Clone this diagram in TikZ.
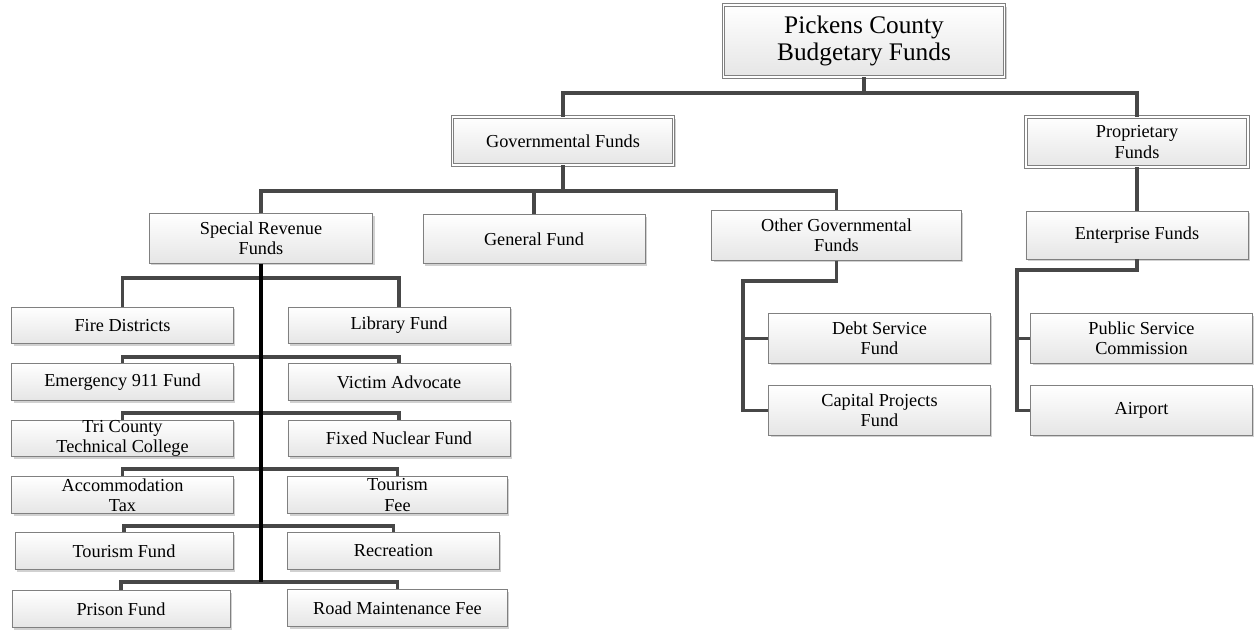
\documentclass[tikz,border=0pt]{standalone}
\usepackage{fontspec}
\setmainfont{Liberation Serif}
\usetikzlibrary{shadows}

\begin{document}
\begin{tikzpicture}[x=0.025cm, y=-0.025cm,
    fund/.style={draw=black!50, line width=0.6pt, top color=white, bottom color=black!10,
      drop shadow={shadow xshift=1.5pt, shadow yshift=-1.5pt, fill=black!30, opacity=0.6},
      align=center, inner sep=0pt, font=\fontsize{13}{14.3}\selectfont,
      minimum width=5.53cm, minimum height=0.92cm},
    head/.style={fund, double=white, double distance=1.2pt},
    link/.style={draw=black!72, line width=2.4pt},
    spine/.style={draw=black, line width=2.4pt}]
  \useasboundingbox (0,0) rectangle (1254,632);

  \node[head, minimum width=7.03cm, minimum height=1.8cm, font=\fontsize{18}{19.5}\selectfont] (pickens) at (864,41) {Pickens County\\Budgetary Funds};
  \node[head, minimum height=1.2cm] (govt) at (563,141) {Governmental Funds};
  \node[head, minimum width=5.55cm, minimum height=1.25cm] (prop) at (1137,142) {Proprietary\\Funds};

  \node[fund, minimum width=5.58cm, minimum height=1.23cm] (special) at (261,238.5) {Special Revenue\\Funds};
  \node[fund, minimum width=5.55cm, minimum height=1.23cm] (general) at (534,239) {General Fund};
  \node[fund, minimum width=6.23cm, minimum height=1.23cm] (othergov) at (836.5,235.5) {Other Governmental\\Funds};
  \node[fund, minimum width=5.55cm, minimum height=1.2cm] (enterprise) at (1137,235) {Enterprise Funds};

  \node[fund, minimum height=1.23cm] (debt) at (879.5,338.5) {Debt Service\\Fund};
  \node[fund, minimum height=1.23cm] (capital) at (879.5,410.5) {Capital Projects\\Fund};
  \node[fund, minimum height=1.23cm] (psc) at (1141.5,338.5) {Public Service\\Commission};
  \node[fund, minimum height=1.23cm] (airport) at (1141.5,410.5) {Airport};

  \node[fund] (fire) at (122.5,325.5) {Fire Districts};
  \node[fund, minimum width=5.55cm] (library) at (399,325.5) {Library Fund};
  \node[fund] (e911) at (122.5,382) {Emergency 911 Fund};
  \node[fund, minimum width=5.55cm] (victim) at (399,382) {Victim Advocate};
  \node[fund] (tricounty) at (122.5,438.5) {Tri County\\Technical College};
  \node[fund, minimum width=5.55cm] (nuclear) at (399,438.5) {Fixed Nuclear Fund};
  \node[fund] (accom) at (122.5,495) {Accommodation\\Tax};
  \node[fund, minimum width=5.48cm] (tourfee) at (397.5,495) {Tourism\\Fee};
  \node[fund, minimum width=5.45cm] (tourfund) at (124,551) {Tourism Fund};
  \node[fund, minimum width=5.28cm] (recreation) at (393.5,551) {Recreation};
  \node[fund, minimum width=5.45cm] (prison) at (121,609) {Prison Fund};
  \node[fund, minimum width=5.48cm] (roadfee) at (397.5,608) {Road Maintenance Fee};

  \coordinate (topbus) at (864,93);
  \coordinate (govbus) at (563,191);
  \coordinate (obus) at (743,281);
  \coordinate (ebus) at (1017,270);

  \draw[link] (pickens.south) -- (topbus);
  \draw[link] (govt.north) |- (topbus) -| (prop.north);
  \draw[link] (govt.south) -- (govbus);
  \draw[link] (special.north) |- (govbus) -| (othergov.north);
  \draw[link] (general.north) -- (general.north |- govbus);
  \draw[link] (prop.south) -- (enterprise.north);

  \draw[link] (othergov.south) |- (obus) |- (capital.west);
  \draw[link] (debt.west) -- (debt.west -| obus);
  \draw[link] (enterprise.south) |- (ebus) |- (airport.west);
  \draw[link] (psc.west) -- (psc.west -| ebus);

  \foreach \l/\r/\b in {fire/library/278, e911/victim/357, tricounty/nuclear/413,
      accom/tourfee/469, tourfund/recreation/526, prison/roadfee/582}
    \draw[link] (\l.north) |- (261,\b) -| (\r.north);
  \draw[spine] (special.south) -- (261,582);
\end{tikzpicture}
\end{document}
